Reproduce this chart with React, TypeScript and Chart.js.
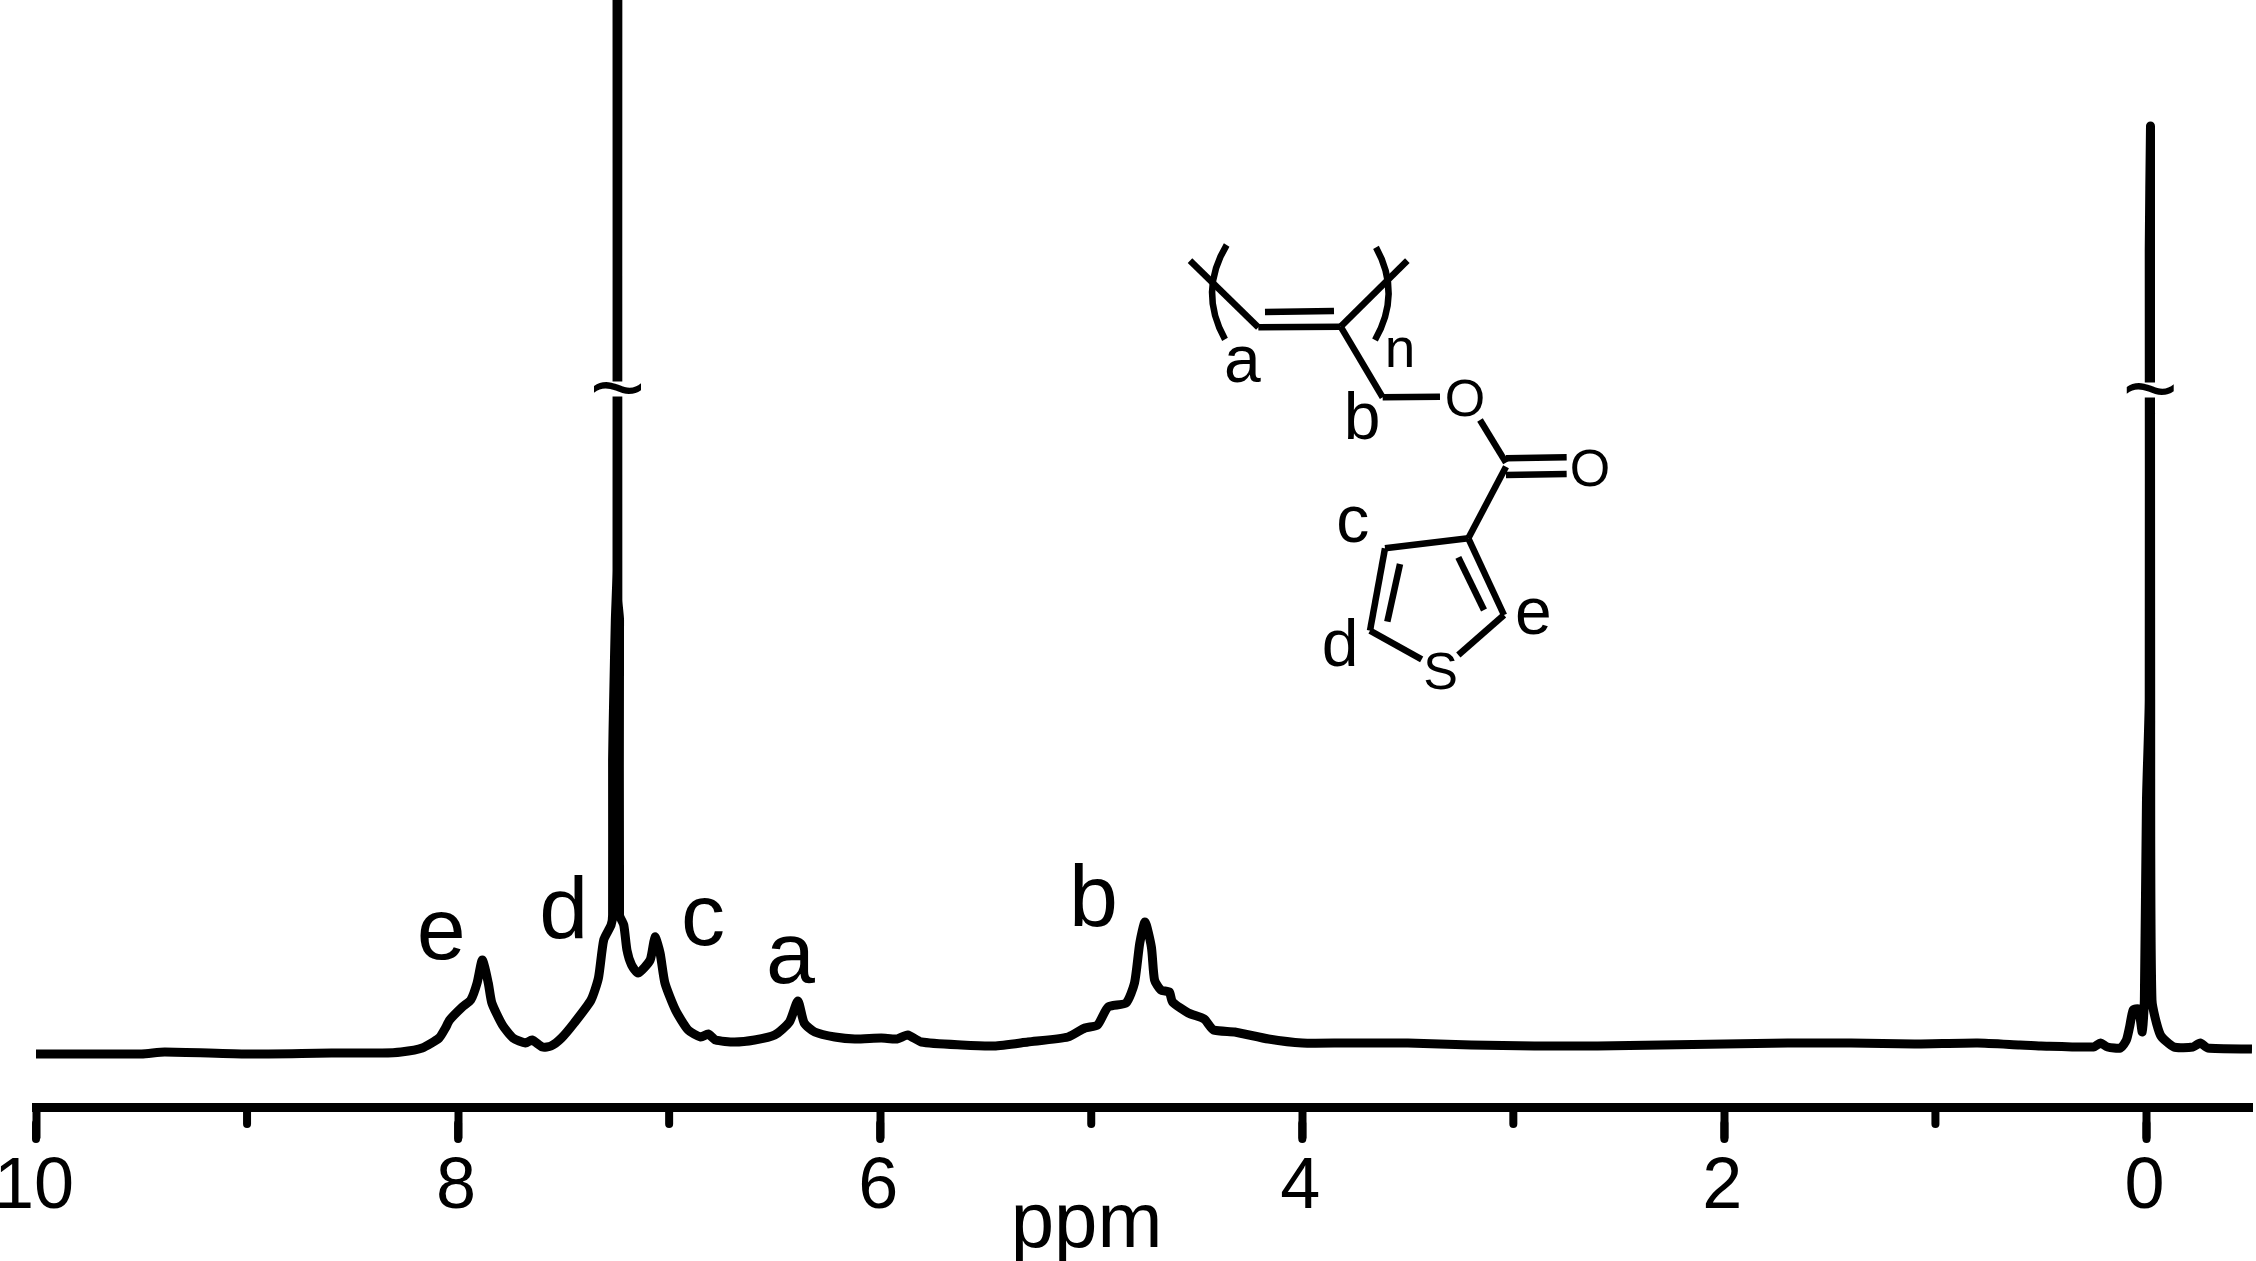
import React, { useEffect, useRef } from "react";
import { Chart, registerables } from "chart.js";

Chart.register(...registerables);

// Spectrum: chemical shift (ppm) and relative intensity.
const shifts = [
  10.0, 9.5, 9.39, 9.0, 8.6, 8.36, 8.27, 8.17, 8.09, 8.06, 8.04, 7.98, 7.94, 7.91, 7.885, 7.857, 7.84, 7.79, 7.74, 7.68,
  7.65, 7.6, 7.56, 7.51, 7.45, 7.37, 7.335, 7.31, 7.275, 7.268, 7.268, 7.263, 7.255, 7.247, 7.247, 7.243, 7.243, 7.235,
  7.235, 7.215, 7.2, 7.178, 7.147, 7.09, 7.067, 7.043, 7.02, 6.97, 6.91, 6.85, 6.815, 6.78, 6.69, 6.595, 6.5, 6.43,
  6.39, 6.36, 6.31, 6.215, 6.12, 5.995, 5.92, 5.87, 5.805, 5.615, 5.46, 5.3, 5.11, 5.03, 4.97, 4.92, 4.835, 4.795,
  4.77, 4.745, 4.715, 4.7, 4.67, 4.63, 4.615, 4.54, 4.465, 4.42, 4.32, 4.16, 4.0, 3.8, 3.5, 3.2, 2.9, 2.6, 2.3, 2.0,
  1.7, 1.4, 1.1, 0.8, 0.6, 0.5, 0.25, 0.218, 0.185, 0.123, 0.095, 0.08, 0.063, 0.038, 0.02, 0.01, 0.0, -0.013, -0.013,
  -0.019, -0.019, -0.02, -0.026, -0.066, -0.13, -0.22, -0.255, -0.29, -0.5,
];
const intensities = [
  -0.2, -0.2, 0.0, -0.2, -0.1, -0.1, 0.0, 0.4, 1.4, 2.4, 3.2, 4.5, 5.2, 6.9, 9.2, 6.9, 4.9, 2.7, 1.4, 0.9,
  1.2, 0.5, 0.6, 1.4, 2.9, 5.2, 7.4, 11.2, 12.7, 13.7, 29.2, 35.2, 43.2, 48.2, 110, 110, 45.2, 43.2,
  13.7, 12.7, 10.2, 8.7, 7.9, 9.2, 11.5, 9.9, 6.9, 4.2, 2.2, 1.5, 1.8, 1.2, 1.0, 1.2, 1.7, 3.0,
  5.1, 2.9, 2.0, 1.5, 1.3, 1.4, 1.3, 1.7, 1.0, 0.7, 0.6, 1.0, 1.5, 2.4, 2.7, 4.5, 4.9, 6.9,
  10.9, 13.0, 10.5, 7.2, 6.2, 6.0, 5.0, 3.9, 3.3, 2.2, 2.0, 1.3, 0.9, 0.9, 0.9, 0.7, 0.6, 0.6, 0.7, 0.8,
  0.9, 0.9, 0.8, 0.9, 0.7, 0.6, 0.5, 0.9, 0.5, 0.4, 1.2, 2.5, 4.2, 4.3, 2.0, 5.2, 25.2, 35.2, 80.2,
  92.6, 92.6, 35.2, 5.2, 1.7, 0.5, 0.5, 0.9, 0.4, 0.3,
];

// Peak assignments.
const peakLabels = ["e", "d", "c", "a", "b"];
const peakLabelShifts = [8.08, 7.5, 6.84, 6.425, 4.99];
const peakLabelHeights = [9.3, 11.4, 10.7, 6.9, 12.6];

// Axis-break marks on the two truncated peaks.
const breakShifts = [7.245, -0.018];
const breakHeights = [66.3, 66.2];

const minorTicks = [9, 7, 5, 3, 1];
const majorTicks = [10, 8, 6, 4, 2, 0];

const FONT = '"Liberation Sans", Arial, sans-serif';

const spectrumPoints = shifts.map((x, i) => ({ x, y: intensities[i] }));

function drawStructure(ctx: CanvasRenderingContext2D) {
  const X = (z: number) => 1130 + z / 3;
  const Y = (z: number) => 220 + z / 3;
  const bonds = [
    [180, 122, 385, 322],
    [385, 322, 632, 320],
    [405, 276, 612, 273],
    [632, 320, 832, 122],
    [632, 320, 758, 532],
    [758, 532, 930, 530],
    [1050, 600, 1128, 728],
    [1128, 715, 1310, 712],
    [1128, 765, 1310, 762],
    [1128, 740, 1015, 955],
    [1015, 955, 765, 985],
    [1015, 955, 1122, 1185],
    [985, 1012, 1062, 1170],
    [765, 985, 720, 1232],
    [810, 1032, 772, 1205],
    [720, 1232, 875, 1318],
    [1122, 1185, 985, 1305],
  ];
  ctx.save();
  ctx.strokeStyle = "#000";
  ctx.lineWidth = 6.5;
  ctx.lineCap = "butt";
  ctx.lineJoin = "round";
  for (const [a, b, c, d] of bonds) {
    ctx.beginPath();
    ctx.moveTo(X(a), Y(b));
    ctx.lineTo(X(c), Y(d));
    ctx.stroke();
  }
  ctx.beginPath();
  ctx.moveTo(X(290), Y(75));
  ctx.quadraticCurveTo(X(205), Y(215), X(285), Y(358));
  ctx.stroke();
  ctx.beginPath();
  ctx.moveTo(X(738), Y(82));
  ctx.quadraticCurveTo(X(815), Y(220), X(735), Y(360));
  ctx.stroke();

  ctx.fillStyle = "#000";
  ctx.textAlign = "center";
  ctx.textBaseline = "alphabetic";
  const texts: [string, number, number, number][] = [
    ["O", 1005, 587, 52],
    ["O", 1380, 797, 52],
    ["S", 932, 1407, 52],
    ["a", 337, 487, 66],
    ["b", 696, 658, 66],
    ["n", 810, 442, 55],
    ["c", 668, 965, 66],
    ["d", 630, 1338, 66],
    ["e", 1210, 1242, 66],
  ];
  for (const [t, x, y, size] of texts) {
    ctx.font = `${size}px ${FONT}`;
    ctx.fillText(t, X(x), Y(y));
  }
  ctx.restore();
}

const annotations = {
  id: "annotations",
  afterDraw(chart: any) {
    const { ctx, scales } = chart;
    const xs = scales.x;
    const ys = scales.y;
    const axisY = chart.chartArea.bottom;

    ctx.save();
    ctx.strokeStyle = "#000";
    ctx.lineWidth = 8;
    ctx.lineCap = "round";
    for (const v of minorTicks) {
      const px = xs.getPixelForValue(v);
      ctx.beginPath();
      ctx.moveTo(px, axisY);
      ctx.lineTo(px, axisY + 16.5);
      ctx.stroke();
    }
    for (const v of majorTicks) {
      const px = xs.getPixelForValue(v);
      ctx.beginPath();
      ctx.moveTo(px, axisY + 16);
      ctx.lineTo(px, axisY + 31.5);
      ctx.stroke();
    }
    ctx.restore();

    ctx.save();
    ctx.fillStyle = "#000";
    ctx.textAlign = "center";
    ctx.textBaseline = "alphabetic";
    ctx.font = `88px ${FONT}`;
    peakLabels.forEach((t, i) => {
      ctx.fillText(t, xs.getPixelForValue(peakLabelShifts[i]), ys.getPixelForValue(peakLabelHeights[i]));
    });
    breakShifts.forEach((s, i) => {
      const px = xs.getPixelForValue(s);
      const py = ys.getPixelForValue(breakHeights[i]);
      ctx.fillStyle = "#fff";
      ctx.fillRect(px - 14, py - 7.5, 28, 15);
      ctx.fillStyle = "#000";
      ctx.font = `95px ${FONT}`;
      ctx.fillText("~", px, py + 31);
    });
    ctx.restore();

    drawStructure(ctx);
  },
};

export default function App() {
  const ref = useRef<HTMLCanvasElement>(null);
  useEffect(() => {
    const chart = new Chart(ref.current!, {
      type: "line",
      data: {
        datasets: [
          {
            data: spectrumPoints,
            borderColor: "#000",
            borderWidth: 9,
            borderJoinStyle: "round",
            borderCapStyle: "butt",
            pointRadius: 0,
            tension: 0.2,
            fill: false,
          },
        ],
      },
      options: {
        responsive: false,
        animation: false,
        parsing: { xAxisKey: "x", yAxisKey: "y" },
        layout: { padding: { left: 36, right: 4, top: 0, bottom: 0 } },
        plugins: { legend: { display: false }, tooltip: { enabled: false }, title: { display: false } },
        scales: {
          x: {
            type: "linear",
            reverse: true,
            min: -0.5,
            max: 10,
            position: "bottom",
            border: { display: true, color: "#000", width: 9 },
            grid: { drawOnChartArea: false, drawTicks: true, tickLength: 31, tickWidth: 8, tickColor: "#000" },
            ticks: {
              stepSize: 2,
              includeBounds: false,
              maxRotation: 0,
              autoSkip: false,
              padding: 6,
              labelOffset: -2,
              color: "#000",
              font: { family: FONT, size: 72 },
            },
            title: {
              display: true,
              text: "ppm\u00A0\u00A0\u00A0\u00A0\u00A0\u200A",
              color: "#000",
              font: { family: FONT, size: 78, lineHeight: 0.92 },
              padding: { top: 0, bottom: 0 },
            },
            afterFit(scale: any) {
              scale.paddingLeft = 0;
              scale.paddingRight = 0;
              scale.height = 153.5;
            },
          },
          y: { type: "linear", display: false, min: -5.55, max: 105.2 },
        },
      },
      plugins: [annotations],
    } as any);
    return () => chart.destroy();
  }, []);
  return (
    <canvas
      ref={ref}
      width={2256}
      height={1261}
      style={{ position: "absolute", left: 0, top: 0, display: "block", background: "#fff" }}
    />
  );
}
